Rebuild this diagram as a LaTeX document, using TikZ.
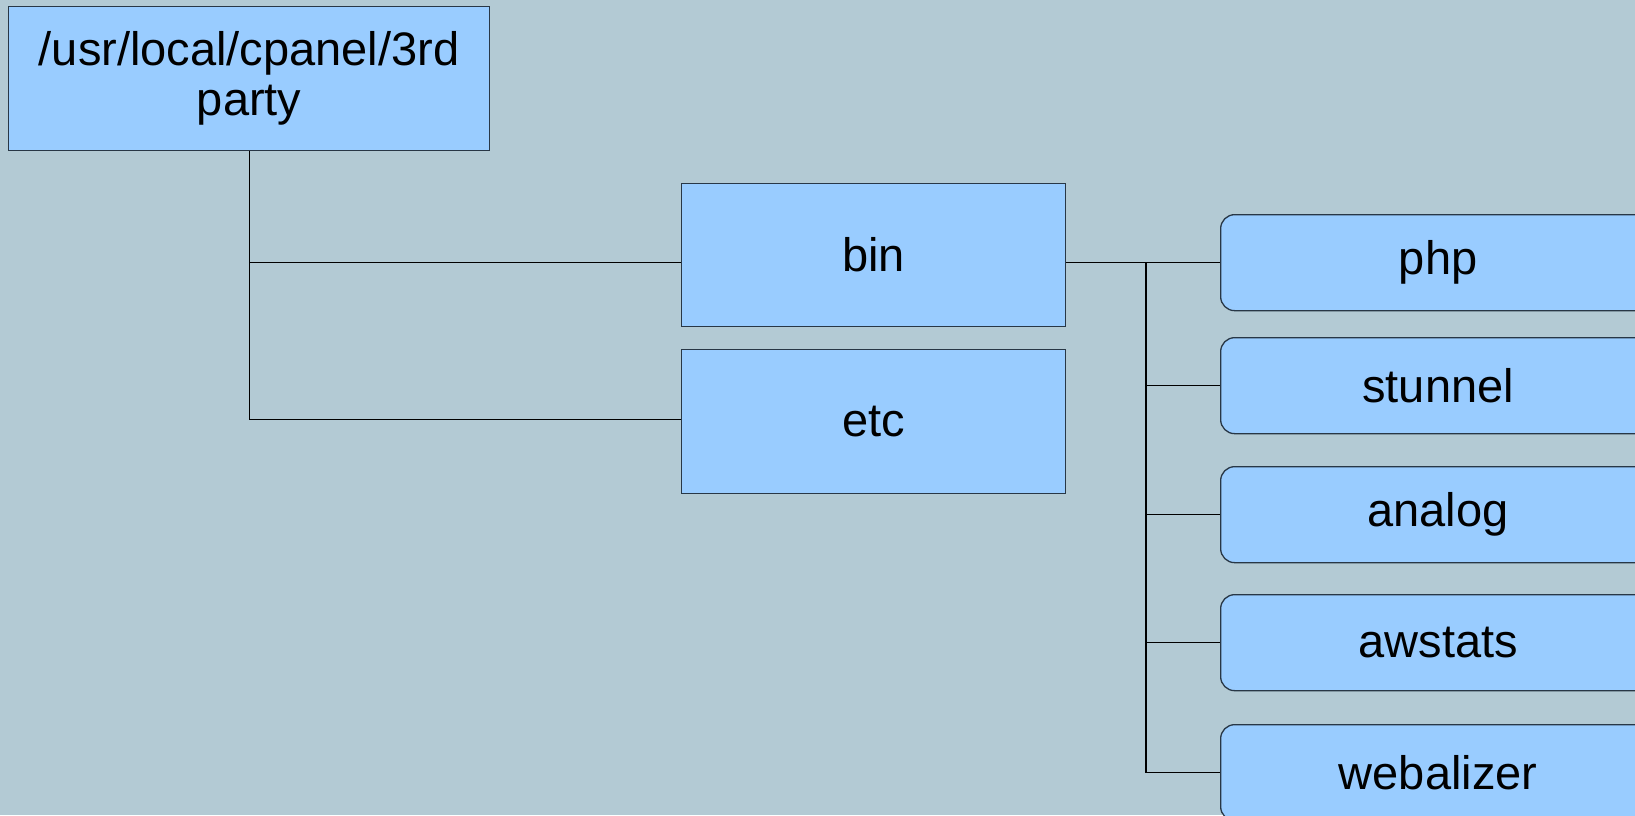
\documentclass[tikz,border=0pt]{standalone}
\usepackage{fontspec}
\setmainfont{Liberation Sans}
\definecolor{bgc}{RGB}{179,202,212}
\definecolor{boxfill}{RGB}{153,204,255}
\definecolor{boxline}{RGB}{40,55,70}
\begin{document}
\begin{tikzpicture}[x=1pt,y=-1pt,
  every node/.style={font=\fontsize{47}{50}\selectfont, text=black, inner sep=0pt},
  sqbox/.style={draw=boxline, line width=1.3pt, fill=boxfill, anchor=north west, align=center},
  rbox/.style={draw=boxline, line width=1.3pt, fill=boxfill, anchor=north west, rounded corners=14pt,
    minimum width=435pt, minimum height=96pt},
  conn/.style={draw=black, line width=1.2pt}]
\clip (0,0) rectangle (1635,815);
\fill[bgc] (0,0) rectangle (1635,815);
\node[sqbox, minimum width=481pt, minimum height=144pt] (root) at (8,6) {/usr/local/cpanel/3rd\\party};
\node[sqbox, minimum width=384pt, minimum height=143pt] (bin) at (681,183) {bin};
\node[sqbox, minimum width=384pt, minimum height=144pt] (etc) at (681,349) {etc};
\node[rbox] (php) at (1220,214) {php};
\node[rbox] (stunnel) at (1220,337) {stunnel};
\node[rbox] (analog) at (1220,466) {analog};
\node[rbox] (awstats) at (1220,594) {awstats};
\node[rbox] (webalizer) at (1220,724) {webalizer};
\coordinate (j) at (1146,262);
\draw[conn] (root.south) |- (bin.west |- php.west);
\draw[conn] (root.south) |- ([yshift=2pt]etc.west);
\draw[conn] (bin.east |- php.west) -- (php.west);
\draw[conn] (j |- php.west) |- (webalizer.west);
\draw[conn] (j |- stunnel.west) -- (stunnel.west);
\draw[conn] (j |- analog.west) -- (analog.west);
\draw[conn] (j |- awstats.west) -- (awstats.west);
\end{tikzpicture}
\end{document}
